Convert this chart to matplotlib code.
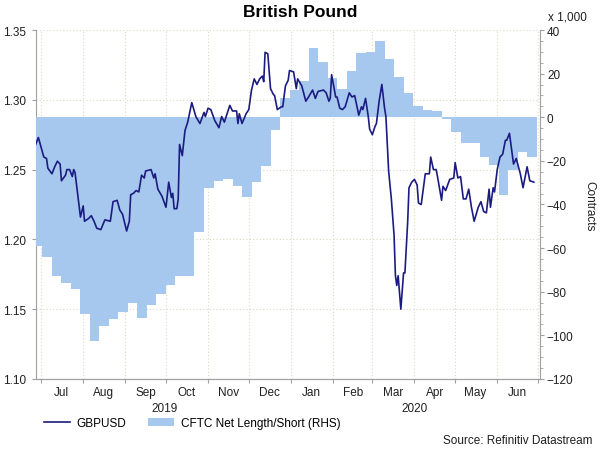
import numpy as np
import pandas as pd
import matplotlib
matplotlib.use("Agg")
import matplotlib.pyplot as plt
import matplotlib.dates as mdates
import matplotlib.transforms as mtrans
from matplotlib.lines import Line2D
from matplotlib.patches import Patch

plt.rcParams['font.family'] = ['Liberation Sans', 'DejaVu Sans']

# GBPUSD spot
fx_dates = [
    "2019-06-27", "2019-06-29", "2019-07-03", "2019-07-05", "2019-07-06", "2019-07-09",
    "2019-07-11", "2019-07-13", "2019-07-15", "2019-07-16", "2019-07-19", "2019-07-20",
    "2019-07-22", "2019-07-24", "2019-07-25", "2019-07-26", "2019-07-30", "2019-08-01",
    "2019-08-02", "2019-08-05", "2019-08-07", "2019-08-09", "2019-08-11", "2019-08-14",
    "2019-08-17", "2019-08-21", "2019-08-23", "2019-08-26", "2019-08-28", "2019-08-30",
    "2019-09-02", "2019-09-04", "2019-09-05", "2019-09-07", "2019-09-09", "2019-09-11",
    "2019-09-13", "2019-09-15", "2019-09-16", "2019-09-20", "2019-09-22", "2019-09-23",
    "2019-09-25", "2019-09-28", "2019-10-01", "2019-10-03", "2019-10-05", "2019-10-06",
    "2019-10-07", "2019-10-09", "2019-10-10", "2019-10-11", "2019-10-13", "2019-10-15",
    "2019-10-17", "2019-10-20", "2019-10-23", "2019-10-26", "2019-10-29", "2019-10-30",
    "2019-11-01", "2019-11-03", "2019-11-06", "2019-11-09", "2019-11-11", "2019-11-13",
    "2019-11-17", "2019-11-19", "2019-11-22", "2019-11-23", "2019-11-24", "2019-11-26",
    "2019-11-29", "2019-12-01", "2019-12-03", "2019-12-05", "2019-12-07", "2019-12-09",
    "2019-12-11", "2019-12-12", "2019-12-13", "2019-12-15", "2019-12-17", "2019-12-19",
    "2019-12-20", "2019-12-22", "2019-12-25", "2019-12-26", "2019-12-28", "2019-12-30",
    "2019-12-31", "2020-01-03", "2020-01-05", "2020-01-06", "2020-01-09", "2020-01-12",
    "2020-01-14", "2020-01-17", "2020-01-19", "2020-01-21", "2020-01-25", "2020-01-27",
    "2020-01-29", "2020-01-30", "2020-01-31", "2020-02-03", "2020-02-04", "2020-02-06",
    "2020-02-08", "2020-02-10", "2020-02-13", "2020-02-15", "2020-02-17", "2020-02-20",
    "2020-02-22", "2020-02-23", "2020-02-25", "2020-02-27", "2020-02-28", "2020-03-01",
    "2020-03-03", "2020-03-04", "2020-03-06", "2020-03-08", "2020-03-10", "2020-03-11",
    "2020-03-13", "2020-03-15", "2020-03-17", "2020-03-18", "2020-03-19", "2020-03-20",
    "2020-03-22", "2020-03-24", "2020-03-25", "2020-03-27", "2020-03-28", "2020-03-30",
    "2020-04-01", "2020-04-03", "2020-04-04", "2020-04-06", "2020-04-09", "2020-04-12",
    "2020-04-13", "2020-04-15", "2020-04-17", "2020-04-18", "2020-04-21", "2020-04-22",
    "2020-04-24", "2020-04-27", "2020-04-30", "2020-05-01", "2020-05-03", "2020-05-05",
    "2020-05-07", "2020-05-09", "2020-05-11", "2020-05-13", "2020-05-15", "2020-05-18",
    "2020-05-20", "2020-05-22", "2020-05-24", "2020-05-26", "2020-05-27", "2020-05-29",
    "2020-05-30", "2020-06-01", "2020-06-03", "2020-06-05", "2020-06-07", "2020-06-08",
    "2020-06-10", "2020-06-13", "2020-06-15", "2020-06-18", "2020-06-20", "2020-06-23",
    "2020-06-25", "2020-06-28",
]
gbpusd = [
    1.268, 1.273, 1.259, 1.258, 1.251, 1.247,
    1.252, 1.256, 1.254, 1.242, 1.246, 1.250,
    1.250, 1.245, 1.250, 1.248, 1.216, 1.224,
    1.213, 1.215, 1.217, 1.213, 1.208, 1.207,
    1.214, 1.213, 1.227, 1.228, 1.221, 1.218,
    1.206, 1.213, 1.232, 1.233, 1.235, 1.234,
    1.246, 1.244, 1.249, 1.250, 1.244, 1.247,
    1.236, 1.231, 1.223, 1.241, 1.230, 1.233,
    1.222, 1.222, 1.229, 1.268, 1.260, 1.278,
    1.284, 1.298, 1.288, 1.283, 1.291, 1.288,
    1.294, 1.293, 1.285, 1.280, 1.288, 1.284,
    1.296, 1.292, 1.292, 1.283, 1.290, 1.283,
    1.290, 1.293, 1.307, 1.315, 1.311, 1.315,
    1.317, 1.313, 1.334, 1.333, 1.308, 1.304,
    1.303, 1.293, 1.295, 1.295, 1.310, 1.314,
    1.321, 1.320, 1.308, 1.315, 1.310, 1.299,
    1.302, 1.307, 1.301, 1.306, 1.307, 1.305,
    1.299, 1.301, 1.318, 1.302, 1.302, 1.294,
    1.293, 1.295, 1.305, 1.302, 1.303, 1.289,
    1.295, 1.293, 1.301, 1.288, 1.279, 1.275,
    1.281, 1.283, 1.299, 1.311, 1.294, 1.288,
    1.249, 1.229, 1.203, 1.174, 1.167, 1.174,
    1.150, 1.176, 1.176, 1.212, 1.237, 1.241,
    1.243, 1.239, 1.226, 1.225, 1.247, 1.247,
    1.259, 1.250, 1.250, 1.245, 1.228, 1.238,
    1.235, 1.243, 1.244, 1.255, 1.244, 1.245,
    1.229, 1.229, 1.236, 1.223, 1.213, 1.223,
    1.227, 1.220, 1.219, 1.236, 1.223, 1.237,
    1.234, 1.250, 1.259, 1.261, 1.271, 1.271,
    1.276, 1.254, 1.258, 1.247, 1.237, 1.252,
    1.242, 1.241,
]

# CFTC net length/short, weekly, thousands of contracts (RHS)
cftc_start = "2019-06-25"
cftc = [
    -59, -64.3, -73, -76, -78.8, -90.2, -102.7, -95.6, -92.5, -89.2,
    -85.2, -92.2, -86, -81, -77, -73, -73, -52.5, -32.6, -29,
    -28.5, -31.4, -36.4, -29.8, -22.5, -5.7, 8.7, 12.5, 16.8, 31.6,
    25.2, 17.9, 13, 21.4, 29.5, 30, 34.8, 26.7, 18.6, 11,
    5, 3.5, 3, -1, -6.6, -11.8, -11.8, -18.4, -21.9, -35.5,
    -24, -16, -18.4,
]

line_col = '#1c1c80'
fill_col = '#a6c8ef'
grid_col = '#ddd8c0'
spine_col = '#a0a0a0'

fx_x = pd.to_datetime(fx_dates)
cftc_x = pd.date_range(cftc_start, periods=len(cftc) + 1, freq='7D')
cftc_y = cftc + [cftc[-1]]

fig = plt.figure(figsize=(6, 4.56), dpi=100)
ax = fig.add_axes([0.06, 0.1667, 0.84, 0.7653])
ax2 = ax.twinx()

# fill on the right axis, line drawn above it using left-axis data coords
ax2.fill_between(cftc_x, 0, cftc_y, step='post', color=fill_col, lw=0)
ax2.plot(fx_x, gbpusd, color=line_col, lw=1.2, transform=ax.transData)

ax.set_xlim(pd.Timestamp("2019-06-27 06:00"), pd.Timestamp("2020-07-02 12:00"))
ax.set_ylim(1.10, 1.35)
ax2.set_ylim(-120, 40)

ax.set_yticks(np.arange(1.10, 1.351, 0.05))
ax.yaxis.set_major_formatter(plt.FormatStrFormatter('%.2f'))
ax2.set_yticks(np.arange(-120, 41, 20))
ax2.yaxis.set_minor_locator(plt.MultipleLocator(5))

ax.xaxis.set_major_locator(mdates.MonthLocator(bymonthday=1))
ax.xaxis.set_major_formatter(plt.NullFormatter())
ax.xaxis.set_minor_locator(mdates.MonthLocator(bymonthday=16))
ax.xaxis.set_minor_formatter(mdates.DateFormatter('%b'))

ax.grid(True, which='major', color=grid_col, linestyle=(0, (1, 2)), lw=0.8)
ax.set_axisbelow(True)

for a in (ax, ax2):
    for s in a.spines.values():
        s.set_color(spine_col)
    a.spines['top'].set_visible(False)
ax2.spines['left'].set_visible(False)
ax.spines['right'].set_visible(False)

ax.tick_params(axis='y', which='major', direction='out', length=3, color=spine_col,
               labelsize=8.5, pad=4, labelcolor='#202020')
ax.tick_params(axis='x', which='major', direction='out', length=3, color=spine_col)
ax.tick_params(axis='x', which='minor', length=0, labelsize=8.5, pad=5, labelcolor='#202020')
ax2.tick_params(axis='y', which='major', direction='out', length=3, color=spine_col,
                labelsize=8.5, pad=2, labelcolor='#202020')
ax2.tick_params(axis='y', which='minor', direction='out', length=2, color=spine_col)

# year labels under the months
trans = mtrans.blended_transform_factory(ax.transData, ax.transAxes)
ax.text(pd.Timestamp("2019-09-30"), -0.083, "2019", transform=trans,
        ha='center', va='center', fontsize=8.5, color='#202020')
ax.text(pd.Timestamp("2020-04-01"), -0.083, "2020", transform=trans,
        ha='center', va='center', fontsize=8.5, color='#202020')

fig.text(0.5, 0.972, "British Pound", ha='center', va='center',
         fontsize=12.5, fontweight='bold')
fig.text(0.913, 0.962, "x 1,000", ha='left', va='center', fontsize=8.5, color='#202020')
fig.text(0.983, 0.548, "Contracts", rotation=270, ha='center', va='center',
         fontsize=8.5, color='#202020')
fig.text(0.988, 0.033, "Source: Refinitiv Datastream", ha='right', va='center',
         fontsize=8.5, color='#202020')

handles = [Line2D([0], [0], color=line_col, lw=1.2),
           Patch(facecolor=fill_col, edgecolor='none')]
fig.legend(handles, ["GBPUSD", "CFTC Net Length/Short (RHS)"],
           loc='center left', bbox_to_anchor=(0.055, 0.07), ncol=2, frameon=False,
           fontsize=8.5, handlelength=2.2, handletextpad=0.6, columnspacing=1.8)

plt.savefig("out.png", dpi=100)
